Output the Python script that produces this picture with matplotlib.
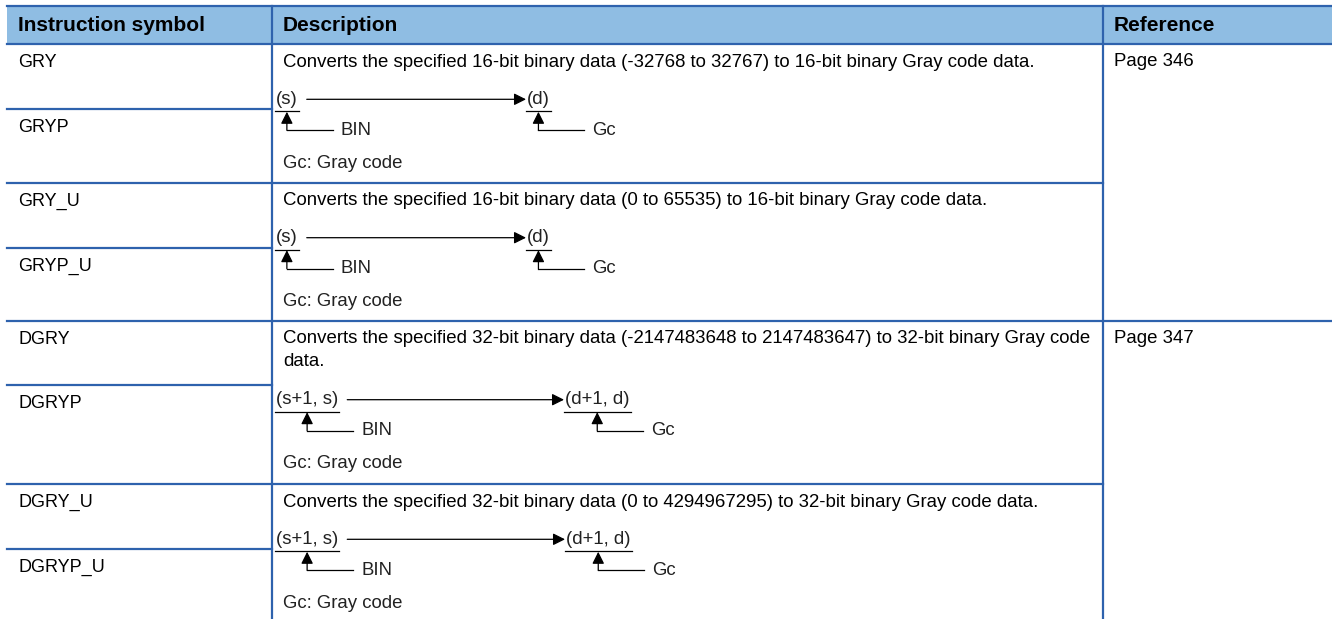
import numpy as np
import matplotlib.pyplot as plt
from matplotlib.patches import Rectangle

plt.rcParams['font.family'] = ['Liberation Sans', 'DejaVu Sans']

# table content
headers = ["Instruction symbol", "Description", "Reference"]
symbols = ["GRY", "GRYP", "GRY_U", "GRYP_U", "DGRY", "DGRYP", "DGRY_U", "DGRYP_U"]
descriptions = [
    "Converts the specified 16-bit binary data (-32768 to 32767) to 16-bit binary Gray code data.",
    "Converts the specified 16-bit binary data (0 to 65535) to 16-bit binary Gray code data.",
    "Converts the specified 32-bit binary data (-2147483648 to 2147483647) to 32-bit binary Gray code\ndata.",
    "Converts the specified 32-bit binary data (0 to 4294967295) to 32-bit binary Gray code data.",
]
src_labels = ["(s)", "(s)", "(s+1, s)", "(s+1, s)"]
dst_labels = ["(d)", "(d)", "(d+1, d)", "(d+1, d)"]
src_type = "BIN"
dst_type = "Gc"
note = "Gc: Gray code"
references = ["Page 346", "Page 347"]

# layout (pixels)
W, H = 1332, 619
col_x = [7, 272, 1102.7, W]
head_top, head_bot = 5.7, 44.3
row_edges = [44.3, 109.3, 182.7, 247.7, 320.7, 385, 484.3, 549.3, H]
dst_x = [527, 527, 565, 566]
blue = '#2e62ad'
head_fill = '#8fbde3'
fs = 13.0
fs_desc = 13.45
fs_head = 15
grey = '#222222'

fig = plt.figure(figsize=(W / 100, H / 100), dpi=100)
ax = fig.add_axes([0, 0, 1, 1])
ax.set_xlim(0, W)
ax.set_ylim(H, 0)
ax.axis('off')

# header
ax.add_patch(Rectangle((col_x[0], head_top), W - col_x[0], head_bot - head_top,
                       facecolor=head_fill, edgecolor='none'))
for i, h in enumerate(headers):
    ax.text(col_x[i] + 11, (head_top + head_bot) / 2 + 0.5, h, fontsize=fs_head,
            fontweight='bold', va='center', ha='left', color='black')

# grid lines
lw = 1.6
ax.plot([col_x[0], W], [head_top, head_top], color=blue, lw=lw)
ax.plot([col_x[0], W], [head_bot, head_bot], color=blue, lw=lw)
for k in range(1, len(row_edges) - 1):
    y = row_edges[k]
    if k % 2 == 1:
        x1 = col_x[1]
    elif k == 4:
        x1 = W
    else:
        x1 = col_x[2]
    ax.plot([col_x[0], x1], [y, y], color=blue, lw=lw)
for x in col_x[1:3]:
    ax.plot([x, x], [head_top, H], color=blue, lw=lw)

# instruction symbols
for i, s in enumerate(symbols):
    ax.text(18, row_edges[i] + 18.5, s, fontsize=fs, va='center', ha='left')

# references
for j, r in enumerate(references):
    ax.text(1114, row_edges[4 * j] + 17.5, r, fontsize=fs_desc, va='center', ha='left')

fig.canvas.draw()
renderer = fig.canvas.get_renderer()
inv = ax.transData.inverted()


def text_span(t):
    bb = t.get_window_extent(renderer)
    (xa, _), (xb, _) = inv.transform([[bb.x0, bb.y0], [bb.x1, bb.y1]])
    return xa, xb


arrow_kw = dict(arrowstyle='-|>,head_length=0.72,head_width=0.36',
                color='black', lw=0.9, mutation_scale=10,
                shrinkA=0, shrinkB=0)

for g, desc in enumerate(descriptions):
    top = row_edges[2 * g]
    lines = desc.split('\n')
    nl = len(lines) - 1
    for li, line in enumerate(lines):
        ax.text(283, top + 18 + li * 22.5, line, fontsize=fs_desc, va='center', ha='left')
    ay = top + 55 + nl * 24
    ax.text(283, top + 119 + nl * 24, note, fontsize=fs_desc, va='center', ha='left',
            color=grey)

    ts = ax.text(276, ay, src_labels[g], fontsize=fs_desc, va='center', ha='left', color=grey)
    td = ax.text(dst_x[g], ay, dst_labels[g], fontsize=fs_desc, va='center', ha='left',
                 color=grey)
    fig.canvas.draw()
    s0, s1 = text_span(ts)
    d0, d1 = text_span(td)
    uy = ay + 12
    ax.plot([s0 - 1, s1 + 1], [uy, uy], color='black', lw=0.9)
    ax.plot([d0 - 1, d1 + 1], [uy, uy], color='black', lw=0.9)
    # main arrow
    ax.annotate('', xy=(d0 - 1, ay), xytext=(s1 + 9, ay), arrowprops=arrow_kw)
    # type pointers
    for (a, b), lab in [((s0, s1), src_type), ((d0, d1), dst_type)]:
        cx = (a + b) / 2
        by = ay + 31
        ax.plot([cx, cx + 46], [by, by], color='black', lw=0.9)
        ax.annotate('', xy=(cx, uy + 0.5), xytext=(cx, by), arrowprops=arrow_kw)
        ax.text(cx + 54, by, lab, fontsize=fs_desc, va='center', ha='left', color=grey)

fig.savefig('out.png', dpi=100)
